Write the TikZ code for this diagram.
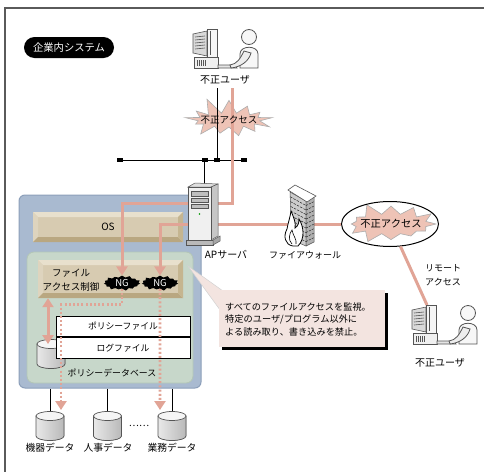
\documentclass[tikz,border=0pt]{standalone}
\usepackage{fontspec}
\setmainfont{Noto Sans CJK JP}
\usetikzlibrary{shapes.symbols,shapes.geometric,arrows.meta,calc}

\definecolor{acc}{HTML}{E1A496}
\definecolor{burstc}{HTML}{EEC3B6}
\definecolor{sysblue}{HTML}{A9BAD0}
\definecolor{sysedge}{HTML}{8C9FBA}
\definecolor{grn}{HTML}{C7D7CA}
\definecolor{grnedge}{HTML}{B3C6B7}
\definecolor{bevface}{HTML}{D7CBB1}
\definecolor{bevlight}{HTML}{E8E0CD}
\definecolor{bevleft}{HTML}{DED4BE}
\definecolor{bevdark}{HTML}{B9A781}
\definecolor{bevright}{HTML}{C5B590}
\definecolor{notefill}{HTML}{F3E4E0}
\definecolor{framec}{HTML}{5A5A5A}
\definecolor{icon}{HTML}{555555}

\tikzset{
  lbl/.style={inner sep=0pt, font=\fontsize{9.5}{11}\selectfont},
  pinkln/.style={draw=acc, line width=3pt},
  pinkarr/.style={draw=acc, line width=3pt, -{Triangle[width=11pt,length=9pt,fill=acc]}},
  dblarr/.style={draw=acc, line width=3pt, {Triangle[width=11pt,length=9pt,fill=acc]}-{Triangle[width=11pt,length=9pt,fill=acc]}},
  dotarr/.style={draw=acc, line width=2.6pt, dash pattern=on 2pt off 2.2pt, -{Triangle[width=11pt,length=9pt,fill=acc]}},
  wire/.style={draw=black, line width=0.9pt},
  slot/.style={minimum width=28pt, minimum height=29pt, inner sep=0pt},
  bevel/.style={fill=bevface, inner sep=0pt, path picture={
    \path (path picture bounding box.north west) coordinate (bNW)
          (path picture bounding box.north east) coordinate (bNE)
          (path picture bounding box.south west) coordinate (bSW)
          (path picture bounding box.south east) coordinate (bSE);
    \fill[bevlight] (bNW) -- (bNE) -- ($(bNE)+(-5,5)$) -- ($(bNW)+(5,5)$) -- cycle;
    \fill[bevleft] (bNW) -- ($(bNW)+(5,5)$) -- ($(bSW)+(5,-5)$) -- (bSW) -- cycle;
    \fill[bevdark] (bSW) -- ($(bSW)+(5,-5)$) -- ($(bSE)+(-5,-5)$) -- (bSE) -- cycle;
    \fill[bevright] (bSE) -- ($(bSE)+(-5,-5)$) -- ($(bNE)+(-5,5)$) -- (bNE) -- cycle;
  }},
  ngbadge/.style={starburst, starburst points=15, starburst point height=2.6pt,
    fill=black, text=white, inner xsep=5pt, inner ysep=0.3pt,
    font=\fontsize{9.5}{10}\selectfont},
  cell/.style={draw=black, fill=white, line width=0.8pt, minimum width=134pt,
    minimum height=20.5pt, inner sep=0pt, font=\fontsize{8.8}{10}\selectfont},
  drum/.pic={
    % cylinder body and lid, 28 wide and 29 high around the origin
    \filldraw[left color=gray!18, right color=gray!55, draw=icon, line width=0.7pt]
      (-14,-10) -- (-14,10) arc[start angle=180, end angle=0, x radius=14, y radius=4.5] -- (14,-10) -- cycle;
    \filldraw[fill=gray!8, draw=icon, line width=0.7pt] (0,-10) ellipse [x radius=14, y radius=4.5];
  },
  pc/.pic={
    % monitor housing with vent slats
    \filldraw[fill=gray!30, draw=icon, line width=0.6pt] (0,5) -- (14,2) -- (14,27) -- (0,24) -- cycle;
    \foreach \yy in {8,11,14,17,20} \draw[icon, line width=0.6pt] (2,\yy) -- (12,\yy-1);
    % screen bezel
    \filldraw[fill=gray!8, draw=icon, line width=0.6pt] (14,0) rectangle (24,28);
    \draw[icon, line width=0.4pt] (17,2) -- (17,26);
    % base unit
    \filldraw[fill=gray!12, draw=icon, line width=0.6pt] (1,28) rectangle (25,39);
    \foreach \xx in {4,6,8,10,12} \draw[icon, line width=0.5pt] (\xx,31) -- (\xx,37);
    % keyboard
    \filldraw[fill=gray!20, draw=icon, line width=0.6pt] (25,36) -- (42,36) -- (44,39) -- (25,39) -- cycle;
    % seated person
    \filldraw[fill=gray!6, draw=icon, line width=0.8pt] (56,8) circle (7.5);
    \filldraw[fill=gray!6, draw=icon, line width=0.8pt] (47,39) -- (47,25) .. controls (47,16) and (65,16) .. (65,25) -- (65,39) -- cycle;
    \filldraw[fill=gray!14, draw=icon, line width=0.8pt] (51,22) .. controls (47,30) and (44,35) .. (37,36) -- (38,39) .. controls (48,38) and (56,32) .. (58,24) -- cycle;
  }
}

\begin{document}
\begin{tikzpicture}[x=1pt,y=-1pt]
\useasboundingbox (0,0) rectangle (484,471);
\fill[white] (0,0) rectangle (484,471);

% outer frame
\draw[framec, line width=1.3pt] (5,480) -- (5,8) -- (490,8);

% title pill
\node[fill=black, text=white, rounded corners=10.5pt, minimum width=90pt, minimum height=21pt,
  inner sep=0pt, font=\fontsize{10.3}{12}\selectfont] (title) at (69,47.5) {企業内システム};

% system block
\node[fill=sysblue, draw=sysedge, line width=1pt, rounded corners=6pt, minimum width=182pt,
  minimum height=193pt, inner sep=0pt] (sys) at (110,291.5) {};
\node[bevel, minimum width=150pt, minimum height=30pt, font=\fontsize{10}{12}\selectfont] (os) at (108,227) {OS};
\node[fill=grn, draw=grnedge, line width=0.8pt, rounded corners=7pt, minimum width=166pt,
  minimum height=131pt, inner sep=0pt] (inner) at (110,317.5) {};
\node[bevel, minimum width=145pt, minimum height=38pt] (fac) at (110.5,279) {};
\node[lbl, align=center, font=\fontsize{9.5}{13.5}\selectfont] (factxt) at (71,280) {ファイル\\アクセス制御};

% policy database
\node[slot] (db) at (51,354) {};
\pic at (db) {drum};
\node[cell] (pf) at (123,326.5) {ポリシーファイル};
\node[cell, anchor=north] (lf) at (pf.south) {ログファイル};
\node[lbl, font=\fontsize{8.9}{10}\selectfont] (dblbl) at (112,372.5) {ポリシーデータベース};

% callout
\coordinate (ptip) at (188,266);
\fill[notefill] (ptip) -- (223,291) -- (223,314) -- cycle;
\draw[gray!35, line width=0.5pt] (223,291) -- (ptip) -- (223,314);
\fill[black] (221.5,292.5) rectangle (387.5,349.5);
\node[fill=notefill, minimum width=166pt, minimum height=57pt, inner sep=0pt, anchor=north west] (note) at (219,290) {};
\node[lbl, align=left, anchor=west, font=\fontsize{9.2}{12.6}\selectfont] (notetxt) at (225,319.5)
  {すべてのファイルアクセスを監視。\\特定のユーザ/プログラム以外に\\よる読み取り、書き込みを禁止。};

% upper intrusion burst
\node[starburst, starburst points=13, starburst point height=17pt, random starburst=11,
  fill=burstc, draw=gray!65, line width=0.6pt, minimum width=96pt, minimum height=48pt] (b1) at (229,120) {};

% network bus
\coordinate (busL) at (118,160);
\coordinate (busR) at (246,160);
\coordinate (u1port) at (217,88);
\coordinate (u1pink) at (232,88);
\coordinate (srvtop) at (204,184);
\draw[wire] (busL) -- (busR);
\draw[wire] (u1port) -- (u1port |- busL);
\draw[wire] (srvtop) -- (srvtop |- busL);
\foreach \bx in {120,205,217,244} \fill[black] (\bx-2.8,157.8) rectangle (\bx+2.8,162.2);

% remote intrusion cloud
\node[starburst, starburst points=12, starburst point height=13pt, random starburst=5,
  fill=burstc, draw=gray!65, line width=0.6pt, minimum width=98pt, minimum height=46pt] (b2) at (391,224) {};
\node[ellipse, draw=black, line width=1pt, minimum width=97pt, minimum height=45pt, inner sep=0pt] (rem) at (390,224) {};
\node[lbl, font=\fontsize{10.3}{12}\selectfont] (b2t) at (b2.center) {不正アクセス};

% access control badges
\node[ngbadge] (ng1) at (122,283) {NG};
\node[ngbadge] (ng2) at (160,283) {NG};

% intrusion paths
\coordinate (u2top) at (427,305);
\coordinate (dbtop) at (48,344);
\draw[pinkarr] (u1pink) -- ++(0,115) -| (ng1.north);
\draw[pinkarr] (rem.west) -| (ng2.north);
\draw[pinkln] (rem.-65) -- (u2top);
\draw[dblarr] (dbtop |- fac.south) -- (dbtop);
\node[lbl] (b1t) at (b1.center) {不正アクセス};

% data stores
\node[slot] (c1) at (50,426) {};
\node[slot] (c2) at (107.5,426) {};
\node[slot] (c3) at (172,426) {};
\draw[wire] (c1.north |- sys.south) -- (c1.north);
\draw[wire] (c2.north |- sys.south) -- (c2.north);
\draw[wire] (c3.north |- sys.south) -- (c3.north);
\pic at (c1) {drum};
\pic at (c2) {drum};
\pic at (c3) {drum};
\node[lbl] (dots) at (139,426) {……};
\node[lbl, font=\fontsize{9.8}{11}\selectfont] (c1l) at (50,448) {機器データ};
\node[lbl, font=\fontsize{9.8}{11}\selectfont] (c2l) at (108,448) {人事データ};
\node[lbl, font=\fontsize{9.8}{11}\selectfont] (c3l) at (172,448) {業務データ};

% blocked reads and writes
\coordinate (d1end) at (61,410);
\coordinate (d2end) at (160,410);
\draw[dotarr] (ng1.south) -- ++(0,16) -| (d1end);
\draw[dotarr] (ng2.south) -- (d2end);

% application server
\filldraw[fill=gray!25, draw=icon, line width=0.5pt] (188,187) -- (195,183) -- (218,184) -- (211,187) -- cycle;
\filldraw[fill=gray!45, draw=icon, line width=0.5pt] (211,187) -- (218,184) -- (218,236) -- (211,240) -- cycle;
\filldraw[fill=gray!12, draw=icon, line width=0.5pt] (188,187) rectangle (211,240);
\filldraw[fill=gray!50, draw=icon, line width=0.5pt] (191,191) rectangle (208,196);
\filldraw[fill=gray!50, draw=icon, line width=0.5pt] (191,198) rectangle (208,202);
\filldraw[fill=gray!50, draw=icon, line width=0.5pt] (191,204) rectangle (208,208);
\fill[green!60!black] (199.5,214) circle (0.9);
\filldraw[fill=gray!55, draw=icon, line width=0.5pt] (186,240) rectangle (213,245);
\filldraw[fill=gray!70, draw=icon, line width=0.5pt] (213,240) -- (220,236) -- (220,241) -- (213,245) -- cycle;
\node[lbl, font=\fontsize{10}{11}\selectfont] (srvlbl) at (226,255) {APサーバ};

% firewall
\filldraw[fill=gray!40, draw=icon, line width=0.5pt] (290,192) -- (306,201) -- (306,246) -- (292,240) -- cycle;
\filldraw[fill=gray!62, draw=icon, line width=0.5pt] (306,201) -- (314,197) -- (314,242) -- (306,246) -- cycle;
\foreach \k in {1,...,9} {
  \draw[gray!20!black, line width=0.45pt, dash pattern=on 2.5pt off 1.2pt] ($(290,192)!\k/10!(292,240)$) -- ($(306,201)!\k/10!(306,246)$);
  \draw[gray!20!black, line width=0.45pt, dash pattern=on 2pt off 1.2pt] ($(306,201)!\k/10!(306,246)$) -- ($(314,197)!\k/10!(314,242)$);
}
\filldraw[fill=white, draw=icon, line width=0.6pt] (288,190) -- (295,185) -- (316,196) -- (307,202) -- cycle;
\filldraw[fill=white, draw=black, line width=0.8pt] (293,246) .. controls (285,245) and (283,236) .. (287,229)
  .. controls (288,223) and (290,218) .. (291,211) .. controls (294,218) and (296,223) .. (295,228)
  .. controls (298,226) and (299,223) .. (299,219) .. controls (304,227) and (305,239) .. (298,246) -- cycle;
\draw[black, line width=0.6pt] (292,244) .. controls (288,240) and (289,234) .. (292,230) .. controls (293,236) and (297,239) .. (296,244);
\node[lbl, font=\fontsize{9}{11}\selectfont] (fwlbl) at (305,255) {ファイアウォール};

% users
\pic at (193,29) {pc};
\node[lbl, font=\fontsize{10}{11}\selectfont] (u1lbl) at (225,80) {不正ユーザ};
\pic at (412,305) {pc};
\node[lbl, font=\fontsize{10}{11}\selectfont] (u2lbl) at (440,363) {不正ユーザ};
\node[lbl, align=center, font=\fontsize{9}{14}\selectfont] (remlbl) at (443,275) {リモート\\アクセス};
\end{tikzpicture}
\end{document}
